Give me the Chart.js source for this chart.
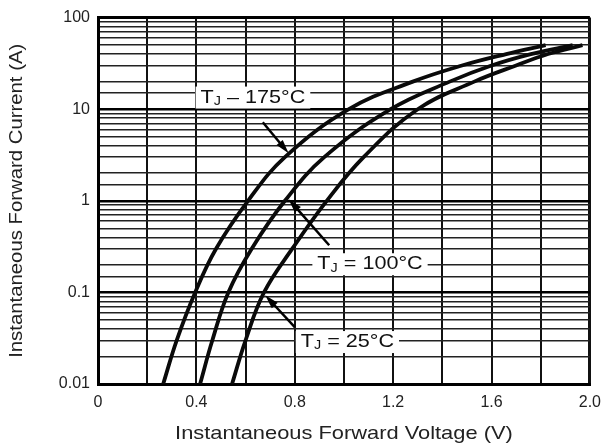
<!DOCTYPE html>
<html>
<head>
<meta charset="utf-8">
<script src="https://cdn.jsdelivr.net/npm/chart.js@4.4.1/dist/chart.umd.min.js"></script>
<style>
  html, body { margin: 0; padding: 0; background: #fff; }
  canvas { display: block; }
</style>
</head>
<body>
<canvas id="vfChart" width="610" height="448"></canvas>
<script>
// forward current (A) levels and the voltage (V) each curve reaches there
const ifLevels = [0.01, 0.03, 0.1, 0.3, 1, 3, 10, 20, 30, 40, 50];
const vf175 = [0.265, 0.32, 0.395, 0.48, 0.61, 0.76, 1.02, 1.28, 1.48, 1.66, 1.82];
const vf100 = [0.415, 0.465, 0.53, 0.625, 0.76, 0.92, 1.19, 1.43, 1.60, 1.76, 1.93];
const vf25 = [0.545, 0.60, 0.675, 0.79, 0.93, 1.08, 1.30, 1.53, 1.70, 1.83, 1.97];

const xTickLabels = ['0', '', '0.4', '', '0.8', '', '1.2', '', '1.6', '', '2.0'];
const yTickLabels = ['0.01', '0.1', '1', '10', '100'];
const seriesNames = ['175°C', '100°C', '25°C'];

const FONT = '"Liberation Sans", Arial, sans-serif';

function toPoints(xs, ys) {
  return xs.map((v, i) => ({ x: v, y: ys[i] }));
}

function isDecade(v) {
  const e = Math.log10(v);
  return Math.abs(e - Math.round(e)) < 1e-6;
}

// label boxes + arrows, placed in data units
const notes = [
  { name: seriesNames[0], sep: '–', at: [0.63, 13.4], from: [0.67, 7.2], to: [0.775, 3.3] },
  { name: seriesNames[1], sep: '=', at: [1.106, 0.203], from: [0.94, 0.327], to: [0.775, 1.04] },
  { name: seriesNames[2], sep: '=', at: [1.014, 0.0287], from: [0.80, 0.0417], to: [0.68, 0.093] }
];

function drawArrow(ctx, x0, y0, x1, y1) {
  const ang = Math.atan2(y1 - y0, x1 - x0);
  const len = 14, half = 4;
  ctx.save();
  ctx.strokeStyle = '#000';
  ctx.fillStyle = '#000';
  ctx.lineWidth = 2.5;
  ctx.beginPath();
  ctx.moveTo(x0, y0);
  ctx.lineTo(x1 - Math.cos(ang) * len * 0.8, y1 - Math.sin(ang) * len * 0.8);
  ctx.stroke();
  ctx.beginPath();
  ctx.moveTo(x1, y1);
  ctx.lineTo(x1 - Math.cos(ang) * len + Math.sin(ang) * half, y1 - Math.sin(ang) * len - Math.cos(ang) * half);
  ctx.lineTo(x1 - Math.cos(ang) * len - Math.sin(ang) * half, y1 - Math.sin(ang) * len + Math.cos(ang) * half);
  ctx.closePath();
  ctx.fill();
  ctx.restore();
}

function stretchText(ctx, text, x, y, sx) {
  ctx.save();
  ctx.translate(x, y);
  ctx.scale(sx, 1);
  ctx.fillText(text, 0, 0);
  ctx.restore();
}

const notesPlugin = {
  id: 'notes',
  afterDatasetsDraw(chart) {
    const ctx = chart.ctx;
    const xs = chart.scales.x, ys = chart.scales.y;
    const big = '18px ' + FONT, small = '12px ' + FONT;
    const sx = 1.2;
    notes.forEach(n => {
      const cx = xs.getPixelForValue(n.at[0]);
      const cy = ys.getPixelForValue(n.at[1]);
      const rest = ' ' + n.sep + ' ' + n.name;
      ctx.font = big;
      const wT = ctx.measureText('T').width * sx;
      const wR = ctx.measureText(rest).width * sx;
      ctx.font = small;
      const wJ = ctx.measureText('J').width * sx;
      const w = wT + wJ + wR;
      ctx.save();
      ctx.fillStyle = '#fff';
      ctx.fillRect(cx - w / 2 - 5, cy - 11, w + 10, 22);
      ctx.fillStyle = '#111';
      ctx.textBaseline = 'middle';
      ctx.textAlign = 'left';
      let x = cx - w / 2;
      ctx.font = big;
      stretchText(ctx, 'T', x, cy, sx);
      x += wT;
      ctx.font = small;
      stretchText(ctx, 'J', x, cy + 4, sx);
      x += wJ;
      ctx.font = big;
      stretchText(ctx, rest, x, cy, sx);
      ctx.restore();
      drawArrow(ctx,
        xs.getPixelForValue(n.from[0]), ys.getPixelForValue(n.from[1]),
        xs.getPixelForValue(n.to[0]), ys.getPixelForValue(n.to[1]));
    });
  },
  afterDraw(chart) {
    const ctx = chart.ctx;
    const a = chart.chartArea;
    ctx.save();
    ctx.fillStyle = '#222';
    ctx.font = '19px ' + FONT;
    ctx.textAlign = 'center';
    ctx.textBaseline = 'middle';
    stretchText(ctx, 'Instantaneous Forward Voltage (V)', (a.left + a.right) / 2, 434, 1.15);
    ctx.translate(17, (a.top + a.bottom) / 2);
    ctx.rotate(-Math.PI / 2);
    stretchText(ctx, 'Instantaneous Forward Current (A)', 0, 0, 1.07);
    ctx.restore();
  }
};

const lineStyle = {
  borderColor: '#0a0a0a',
  borderWidth: 3.8,
  pointRadius: 0,
  tension: 0.4,
  fill: false
};

new Chart(document.getElementById('vfChart'), {
  type: 'line',
  data: {
    datasets: [
      Object.assign({ label: seriesNames[0], data: toPoints(vf175, ifLevels) }, lineStyle),
      Object.assign({ label: seriesNames[1], data: toPoints(vf100, ifLevels) }, lineStyle),
      Object.assign({ label: seriesNames[2], data: toPoints(vf25, ifLevels) }, lineStyle)
    ]
  },
  options: {
    responsive: false,
    animation: false,
    layout: { padding: { top: 17, right: 13, left: 0, bottom: 0 } },
    plugins: {
      legend: { display: false },
      tooltip: { enabled: false }
    },
    scales: {
      x: {
        type: 'linear',
        min: 0,
        max: 2,
        afterFit: s => { s.height = 64; },
        border: { color: '#000', width: 3 },
        grid: {
          color: '#111',
          drawTicks: false,
          lineWidth: c => (c.index === 10 ? 3 : 2)
        },
        ticks: {
          stepSize: 0.2,
          autoSkip: false,
          maxRotation: 0,
          padding: 9,
          color: '#222',
          font: { family: FONT, size: 16 },
          callback: (v, i) => xTickLabels[i]
        }
      },
      y: {
        type: 'logarithmic',
        min: 0.01,
        max: 100,
        afterFit: s => { s.width = 98; },
        border: { color: '#000', width: 3 },
        grid: {
          color: c => (c.tick && isDecade(c.tick.value) ? '#000' : '#222'),
          drawTicks: false,
          lineWidth: c => {
            if (!c.tick) return 1.5;
            if (c.tick.value >= 100) return 3;
            return isDecade(c.tick.value) ? 2.5 : 1.5;
          }
        },
        ticks: {
          autoSkip: false,
          padding: 8,
          color: '#222',
          font: { family: FONT, size: 16 },
          callback: v => (isDecade(v) ? yTickLabels[Math.round(Math.log10(v)) + 2] : '')
        }
      }
    }
  },
  plugins: [notesPlugin]
});
</script>
</body>
</html>
